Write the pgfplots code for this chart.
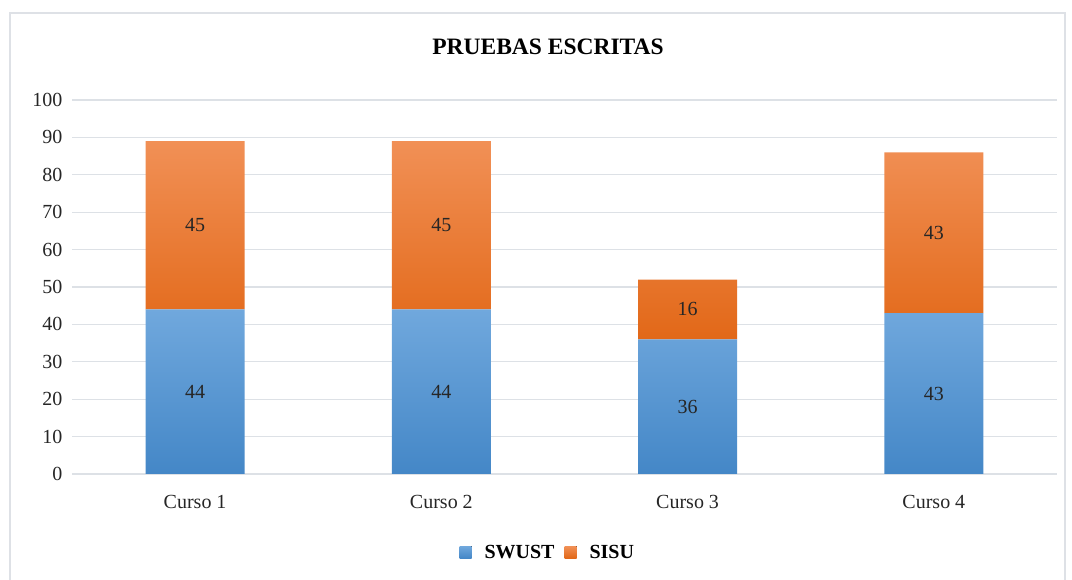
\documentclass[border=0pt]{standalone}
\usepackage{pgfplots}
\pgfplotsset{compat=1.18}
\usepackage{fontspec}
\setmainfont{Liberation Serif}

\definecolor{bluetop}{RGB}{112,168,221}
\definecolor{bluebot}{RGB}{68,135,199}
\definecolor{orangetop}{RGB}{241,144,86}
\definecolor{orangebot}{RGB}{226,104,24}
\definecolor{gridc}{RGB}{221,225,230}
\definecolor{framec}{RGB}{222,225,230}
\definecolor{txt}{RGB}{38,38,38}

\begin{document}
\begin{tikzpicture}
% picture frame, 1 px of the reference = 1 pt, origin at the axis corner
\useasboundingbox (-72pt,-106pt) rectangle (1000pt,474pt);
\draw[framec, line width=1.2pt] (-62pt,-120pt) -- (-62pt,461pt) -- (993pt,461pt) -- (993pt,-120pt);

\begin{axis}[
    scale only axis,
    width=985pt, height=374pt,
    ybar stacked,
    bar width=99pt,
    xmin=-0.5, xmax=3.5,
    ymin=0, ymax=100,
    ytick={0,10,...,100},
    xtick=data,
    xticklabels={Curso 1, Curso 2, Curso 3, Curso 4},
    axis line style={draw=none},
    major tick length=0pt,
    ymajorgrids,
    grid style={gridc, line width=1.2pt},
    tick label style={font=\fontsize{20}{23}\selectfont, text=txt},
    /pgf/number format/assume math mode=true,
    yticklabel style={xshift=-6pt},
    xticklabel style={yshift=-18pt},
    legend style={at={(rel axis cs:0.483,-0.209)}, anchor=center, draw=none,
        legend columns=2, font=\fontsize{20}{23}\selectfont\bfseries,
        /tikz/every odd column/.append style={column sep=11pt},
        /tikz/every even column/.append style={column sep=8pt}},
    legend image code/.code={\fill[#1] (0pt,-6pt) rectangle (12pt,6pt);},
    nodes near coords,
    every node near coord/.append style={anchor=center,
        font=\fontsize{20}{23}\selectfont, text=txt},
]
\addplot[draw=none, top color=bluetop, bottom color=bluebot] coordinates {
    (0,44) (1,44) (2,36) (3,43)
};
\addlegendentry{SWUST}
\addplot[draw=none, top color=orangetop, bottom color=orangebot] coordinates {
    (0,45) (1,45) (2,16) (3,43)
};
\addlegendentry{SISU}
\end{axis}

\node[font=\fontsize{23.5}{26}\selectfont\bfseries, text=black] at (476pt,427pt) {PRUEBAS ESCRITAS};
\end{tikzpicture}
\end{document}
